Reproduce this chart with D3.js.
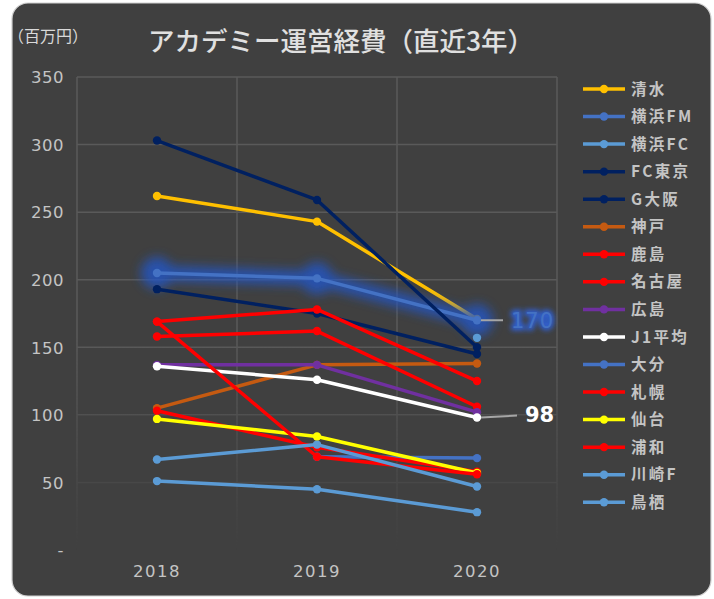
<!DOCTYPE html>
<html><head><meta charset="utf-8">
<script src="https://cdn.jsdelivr.net/npm/d3@7"></script>
<style>
html,body{margin:0;padding:0;background:#fff;}
svg{display:block;}
</style></head>
<body>
<svg id="chart" width="714" height="599"></svg>
<script>
// ---------- data ----------
const years = ["2018", "2019", "2020"];
const seriesNames = ["清水","横浜FM","横浜FC","FC東京","G大阪","神戸","鹿島","名古屋","広島","J1平均","大分","札幌","仙台","浦和","川崎F","鳥栖"];
const seriesColors = ["#FFC000","#4472C4","#5B9BD5","#002060","#002060","#C55A11","#FF0000","#FF0000","#7030A0","#FFFFFF","#4472C4","#FF0000","#FFFF00","#FF0000","#5B9BD5","#5B9BD5"];
const shimizu   = [262, 243, 171];
const yokohamaFM= [205, 201, 170];
const yokohamaFC= [null, null, 157];
const fcTokyo   = [303, 259, 150];
const gOsaka    = [193, 175, 145];
const kobe      = [105, 137, 138];
const kashima   = [169, 178, 125];
const nagoya    = [158, 162, 106];
const hiroshima = [137, 137, 102];
const j1Avg     = [136, 126, 98];
const oita      = [null, 69, 68];
const sapporo   = [103, 76, 58];
const sendai    = [97, 84, 57];
const urawa     = [169, 69, 56];
const kawasaki  = [67, 78, 47];
const tosu      = [51, 45, 28];
const seriesValues = [shimizu, yokohamaFM, yokohamaFC, fcTokyo, gOsaka, kobe, kashima, nagoya, hiroshima, j1Avg, oita, sapporo, sendai, urawa, kawasaki, tosu];
const yTicks = [0, 50, 100, 150, 200, 250, 300, 350];
const titleText = "アカデミー運営経費（直近3年）";
const unitText = "（百万円）";
const highlightIndex = 1;   // 横浜FM

// ---------- layout ----------
const svg = d3.select("#chart");
const L = 77, R = 557, T = 77, B = 550;
const x = d3.scaleBand().domain(years).range([L, R]).padding(0);
const y = d3.scaleLinear().domain([0, 350]).range([B, T]);
const cx = d => x(d) + x.bandwidth() / 2;

const defs = svg.append("defs");
const fade = defs.append("linearGradient").attr("id","fade").attr("gradientUnits","userSpaceOnUse")
  .attr("x1",0).attr("y1",T).attr("x2",0).attr("y2",B);
fade.append("stop").attr("offset","0%").attr("stop-color","#fff");
fade.append("stop").attr("offset","55%").attr("stop-color","#fff");
fade.append("stop").attr("offset","100%").attr("stop-color","#000");
defs.append("mask").attr("id","gmask").attr("maskUnits","userSpaceOnUse")
  .append("rect").attr("x",0).attr("y",0).attr("width",714).attr("height",599).attr("fill","url(#fade)");
const blur = defs.append("filter").attr("id","glow").attr("x","-50%").attr("y","-50%").attr("width","200%").attr("height","200%");
blur.append("feGaussianBlur").attr("stdDeviation",5.5);
const blur2 = defs.append("filter").attr("id","glow2").attr("x","-50%").attr("y","-50%").attr("width","200%").attr("height","200%");
blur2.append("feGaussianBlur").attr("stdDeviation",2.5);

// background card
svg.append("rect").attr("x",12).attr("y",3).attr("width",699).attr("height",593)
  .attr("rx",16).attr("ry",16).attr("fill","#404040").attr("stroke","#D0D0D0").attr("stroke-width",1.2);

// gridlines
const grid = svg.append("g").attr("mask","url(#gmask)");
grid.selectAll("line.h").data(yTicks.filter(v => v > 0)).join("line")
  .attr("x1",L).attr("x2",R).attr("y1",d=>y(d)).attr("y2",d=>y(d))
  .attr("stroke","#5A5A5A").attr("stroke-width",1.5);
const vEdges = years.map(d => x(d)).concat([R]);
grid.selectAll("line.v").data(vEdges).join("line")
  .attr("x1",d=>d).attr("x2",d=>d).attr("y1",T).attr("y2",B)
  .attr("stroke","#5A5A5A").attr("stroke-width",1.5);

// y axis labels
const yAxis = d3.axisLeft(y).tickValues(yTicks).tickSize(0).tickPadding(0)
  .tickFormat(d => d === 0 ? "-" : d);
const yg = svg.append("g").attr("transform","translate(64,0)").call(yAxis);
yg.select(".domain").remove();
yg.selectAll("text").attr("fill","#C4C4C4").attr("font-family","'DejaVu Sans', sans-serif")
  .attr("font-size",16.5).attr("letter-spacing","0.5px").attr("dy","0.35em");

// x axis labels
const xAxis = d3.axisBottom(x).tickSize(0).tickPadding(0);
const xg = svg.append("g").attr("transform","translate(0,571)").call(xAxis);
xg.select(".domain").remove();
xg.selectAll("text").attr("fill","#C4C4C4").attr("font-family","'DejaVu Sans', sans-serif")
  .attr("font-size",16.5).attr("letter-spacing","1.5px").attr("dy","0.35em");

// lines
const line = d3.line().defined(d => d.v != null).x(d => cx(d.yr)).y(d => y(d.v));
seriesValues.forEach((vals, i) => {
  const pts = vals.map((v, j) => ({yr: years[j], v}));
  if (i === highlightIndex) {
    const gg = svg.append("g").attr("filter","url(#glow)").attr("opacity",0.8);
    gg.append("path").datum(pts).attr("d",line).attr("fill","none")
      .attr("stroke","#2356C8").attr("stroke-width",15).attr("stroke-linecap","round");
    gg.selectAll("circle").data(pts.filter(d=>d.v!=null)).join("circle")
      .attr("cx",d=>cx(d.yr)).attr("cy",d=>y(d.v)).attr("r",16).attr("fill","#2356C8");
  }
  const g = svg.append("g");
  g.append("path").datum(pts).attr("d",line).attr("fill","none")
    .attr("stroke",seriesColors[i]).attr("stroke-width",3.5).attr("stroke-linejoin","round");
  g.selectAll("circle").data(pts.filter(d=>d.v!=null)).join("circle")
    .attr("cx",d=>cx(d.yr)).attr("cy",d=>y(d.v)).attr("r",4.2).attr("fill",seriesColors[i]);
});

// data labels
const lastHi = yokohamaFM[2], lastAvg = j1Avg[2];
svg.append("line").attr("x1",cx("2020")+4).attr("x2",503).attr("y1",y(lastHi)).attr("y2",y(lastHi))
  .attr("stroke","#A6A6A6").attr("stroke-width",2);
svg.append("text").attr("x",511).attr("y",y(lastHi)).attr("dy","0.36em")
  .attr("font-family","'DejaVu Sans', sans-serif").attr("font-size",21)
  .attr("fill","#2F5FD0").attr("stroke","#2F5FD0").attr("stroke-width",5).attr("filter","url(#glow2)")
  .attr("letter-spacing","1px").text(lastHi);
svg.append("text").attr("x",511).attr("y",y(lastHi)).attr("dy","0.36em")
  .attr("font-family","'DejaVu Sans', sans-serif").attr("font-size",21)
  .attr("fill","#4472C4").attr("letter-spacing","1px").text(lastHi);
svg.append("line").attr("x1",cx("2020")+4).attr("x2",517).attr("y1",y(lastAvg)).attr("y2",y(lastAvg)-2)
  .attr("stroke","#A6A6A6").attr("stroke-width",2);
svg.append("text").attr("x",525).attr("y",y(lastAvg)-3).attr("dy","0.36em")
  .attr("font-family","'DejaVu Sans', sans-serif").attr("font-size",21).attr("font-weight","bold")
  .attr("fill","#FFFFFF").text(lastAvg);

// legend
const lg = svg.append("g").attr("transform","translate(583,89)");
seriesNames.forEach((name, i) => {
  const row = lg.append("g").attr("transform",`translate(0,${i*27.55})`);
  row.append("line").attr("x1",0).attr("x2",42).attr("y1",0).attr("y2",0)
    .attr("stroke",seriesColors[i]).attr("stroke-width",3.5);
  row.append("circle").attr("cx",21).attr("cy",0).attr("r",4.2).attr("fill",seriesColors[i]);
  row.append("text").attr("x",48).attr("y",0).attr("dy","0.36em")
    .attr("font-family","'Noto Sans CJK JP', sans-serif").attr("font-weight","bold")
    .attr("font-size",15.5).attr("letter-spacing","2.3px").attr("fill","#C4C4C4").text(name);
});

// titles
svg.append("text").attr("x",148).attr("y",41).attr("dy","0.36em")
  .attr("font-family","'Noto Sans CJK JP', sans-serif").attr("font-size",26.5).attr("font-weight",500)
  .attr("fill","#E0E0E0").text(titleText);
svg.append("text").attr("x",8).attr("y",36).attr("dy","0.36em")
  .attr("font-family","'Noto Sans CJK JP', sans-serif").attr("font-size",16)
  .attr("fill","#D9D9D9").text(unitText);
</script>
</body></html>
